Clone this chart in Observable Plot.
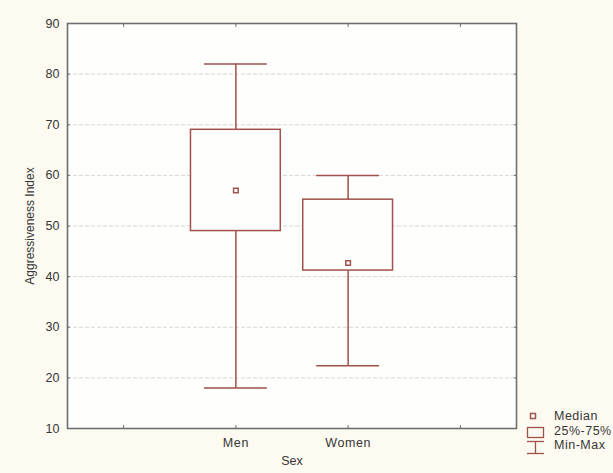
<!DOCTYPE html>
<html>
<head>
<meta charset="utf-8">
<script src="https://cdn.jsdelivr.net/npm/d3@7"></script>
<script src="https://cdn.jsdelivr.net/npm/@observablehq/plot@0.6"></script>
<style>
  html, body { margin: 0; padding: 0; background: #fdfaf1; }
  #wrap { position: relative; width: 613px; height: 473px; background: #fdfaf1; font-family: "Liberation Sans", Arial, sans-serif; }
  #wrap svg text { font-family: "Liberation Sans", Arial, sans-serif; }
  #chart g[aria-label="x-axis tick label"] text { letter-spacing: 0.6px; }
  #legend { position: absolute; left: 520px; top: 404px; }
  #legend text { font-size: 12.5px; fill: #363636; letter-spacing: 0.5px; }
</style>
</head>
<body>
<div id="wrap"><div id="chart"></div><svg id="legend" width="93" height="56"></svg></div>
<script>
// ---- data ----
const sexes   = ["Men", "Women"];
const mins    = [18, 22.4];
const q1s     = [49, 41.2];
const medians = [57, 42.7];
const q3s     = [69, 55.2];
const maxs    = [82, 60];
const yTicks  = [10, 20, 30, 40, 50, 60, 70, 80, 90];
const gridVals = [20, 30, 40, 50, 60, 70, 80];
const xTicks  = [0, 1, 2, 3];
const legendLabels = ["Median", "25%-75%", "Min-Max"];

const boxColor = "#a0514b";
const frameColor = "#6f6f6f";
const textColor = "#363636";

const data = sexes.map((s, i) => ({
  sex: s, pos: i + 1, min: mins[i], q1: q1s[i], median: medians[i], q3: q3s[i], max: maxs[i]
}));
const halfBox = 0.4, halfCap = 0.28;

const chart = Plot.plot({
  width: 613,
  height: 473,
  marginLeft: 67,
  marginRight: 97,
  marginTop: 23,
  marginBottom: 45,
  style: { background: "transparent", fontFamily: "Liberation Sans, Arial, sans-serif", fontSize: "12px", color: textColor },
  x: { domain: [-0.5, 3.5], label: null, axis: null },
  y: { domain: [10, 90], label: null, axis: null },
  marks: [
    Plot.frame({ fill: "#fefefd", stroke: "none" }),
    Plot.ruleY(gridVals, { stroke: "#d6d6d6", strokeWidth: 1, strokeDasharray: "4,2" }),
    // whiskers
    Plot.ruleX(data, { x: "pos", y1: "min", y2: "q1", stroke: boxColor, strokeWidth: 1.5 }),
    Plot.ruleX(data, { x: "pos", y1: "q3", y2: "max", stroke: boxColor, strokeWidth: 1.5 }),
    Plot.ruleY(data, { y: "min", x1: d => d.pos - halfCap, x2: d => d.pos + halfCap, stroke: boxColor, strokeWidth: 1.5 }),
    Plot.ruleY(data, { y: "max", x1: d => d.pos - halfCap, x2: d => d.pos + halfCap, stroke: boxColor, strokeWidth: 1.5 }),
    // boxes
    Plot.rect(data, { x1: d => d.pos - halfBox, x2: d => d.pos + halfBox, y1: "q1", y2: "q3", fill: "#fefefd", stroke: boxColor, strokeWidth: 1.5 }),
    // medians
    Plot.dot(data, { x: "pos", y: "median", symbol: "square", r: 2.6, fill: "white", stroke: boxColor, strokeWidth: 1.5 }),
    // frame
    Plot.frame({ stroke: frameColor, strokeWidth: 1.6 }),
    // inward ticks
    Plot.axisX(xTicks, { anchor: "bottom", tickSize: 3, dy: -3, tickFormat: () => "", stroke: frameColor }),
    Plot.axisX(xTicks, { anchor: "top", tickSize: 3, dy: 3, tickFormat: () => "", stroke: frameColor }),
    Plot.axisY(yTicks, { anchor: "left", tickSize: 3, dx: 3, tickFormat: () => "", stroke: frameColor }),
    Plot.axisY(yTicks, { anchor: "right", tickSize: 3, dx: -3, tickFormat: () => "", stroke: frameColor }),
    // tick labels
    Plot.axisX(xTicks, { anchor: "bottom", tickSize: 0, tickPadding: 10, tickFormat: d => sexes[d - 1] ?? "", fontSize: 12.5, fill: textColor, label: null }),
    Plot.axisY(yTicks, { anchor: "left", tickSize: 0, tickPadding: 8, tickFormat: d => String(d), fontSize: 12.5, fill: textColor, label: null }),
    // axis titles
    Plot.text(["Aggressiveness Index"], { text: d => d, frameAnchor: "left", textAnchor: "middle", rotate: -90, dx: -37, fontSize: 12, fill: textColor }),
    Plot.text(["Sex"], { text: d => d, frameAnchor: "bottom", dy: 36, fontSize: 12.5, fill: textColor })
  ]
});
document.getElementById("chart").appendChild(chart);

// ---- legend ----
const lg = d3.select("#legend");
lg.append("rect").attr("x", 10.5).attr("y", 9.5).attr("width", 5).attr("height", 5)
  .attr("fill", "white").attr("stroke", boxColor).attr("stroke-width", 1.5);
lg.append("rect").attr("x", 7.5).attr("y", 23.5).attr("width", 16).attr("height", 10)
  .attr("fill", "none").attr("stroke", boxColor).attr("stroke-width", 1.3);
lg.append("line").attr("x1", 7).attr("x2", 24).attr("y1", 37.5).attr("y2", 37.5).attr("stroke", boxColor).attr("stroke-width", 1.3);
lg.append("line").attr("x1", 15.5).attr("x2", 15.5).attr("y1", 37.5).attr("y2", 49.5).attr("stroke", boxColor).attr("stroke-width", 1.3);
lg.append("line").attr("x1", 7).attr("x2", 24).attr("y1", 49.5).attr("y2", 49.5).attr("stroke", boxColor).attr("stroke-width", 1.3);
legendLabels.forEach((t, i) => {
  lg.append("text").attr("x", 34).attr("y", [12, 26.5, 40.5][i]).attr("dominant-baseline", "central").text(t);
});
</script>
</body>
</html>
